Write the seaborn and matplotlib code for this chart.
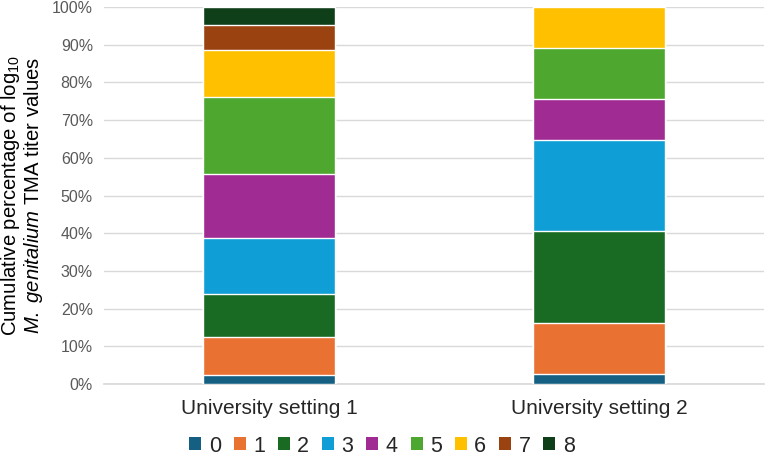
import matplotlib
matplotlib.use("Agg")
import matplotlib.pyplot as plt
import seaborn as sns
import pandas as pd
import numpy as np
from matplotlib.patches import Patch
from matplotlib.ticker import PercentFormatter

settings = ["University setting 1", "University setting 2"]
levels = ["0", "1", "2", "3", "4", "5", "6", "7", "8"]
setting1 = [2.4, 10.1, 11.4, 14.9, 17.0, 20.4, 12.5, 6.6, 4.7]
setting2 = [2.7, 13.5, 24.4, 24.2, 10.9, 13.5, 10.8, 0.0, 0.0]
colors = ["#156082", "#E97132", "#196B24", "#0F9ED5", "#A02B93",
          "#4EA72E", "#FFC000", "#9B4211", "#0F3F18"]

sns.set_theme(style="white")
plt.rcParams["font.family"] = ["Liberation Sans", "DejaVu Sans"]
plt.rcParams["mathtext.fontset"] = "custom"
plt.rcParams["mathtext.rm"] = "Liberation Sans"
plt.rcParams["mathtext.it"] = "Liberation Sans:italic"

rows = []
for s, vals in zip(settings, [setting1, setting2]):
    cum = np.cumsum(vals)
    for lvl, v, c in zip(levels, vals, cum):
        rows.append({"setting": s, "level": lvl, "value": v, "cum": c})
df = pd.DataFrame(rows)

fig = plt.figure(figsize=(7.65, 4.55), dpi=100)
ax = fig.add_axes([104/765, 1 - 384/455, (764-104)/765, (384-7)/455])

for lvl, col in reversed(list(zip(levels, colors))):
    sub = df[df["level"] == lvl]
    sns.barplot(data=sub, x="setting", y="cum", color=col, width=0.4,
                saturation=1, ax=ax, order=settings, zorder=3)

ax.set_ylim(0, 100)
ax.set_yticks(np.arange(0, 101, 10))
ax.yaxis.set_major_formatter(PercentFormatter(decimals=0))
ax.grid(axis="y", color="#d9d9d9", linewidth=1, zorder=0)
ax.set_axisbelow(True)
for sp in ["left", "right", "top"]:
    ax.spines[sp].set_visible(False)
ax.spines["bottom"].set_color("#d9d9d9")
ax.tick_params(axis="y", labelsize=11.5, colors="#595959", length=0, pad=8)
ax.tick_params(axis="x", labelsize=15, colors="#262626", length=0, pad=11)
ax.set_xlabel("")
ax.set_ylabel("Cumulative percentage of log$_{10}$\n$\\mathit{M.}$ $\\mathit{genitalium}$ TMA titer values",
              fontsize=14.6, color="#000000", labelpad=5, linespacing=1.0)

handles = [Patch(facecolor=c, edgecolor="none", label=l) for l, c in zip(levels, colors)]
fig.legend(handles=handles, loc="center", bbox_to_anchor=(382/765, 1 - 446/455),
           ncol=9, frameon=False, fontsize=15.5, handlelength=0.55, handleheight=0.55,
           handletextpad=0.35, columnspacing=0.6, borderpad=0, borderaxespad=0)

fig.savefig("out.png", dpi=100)
